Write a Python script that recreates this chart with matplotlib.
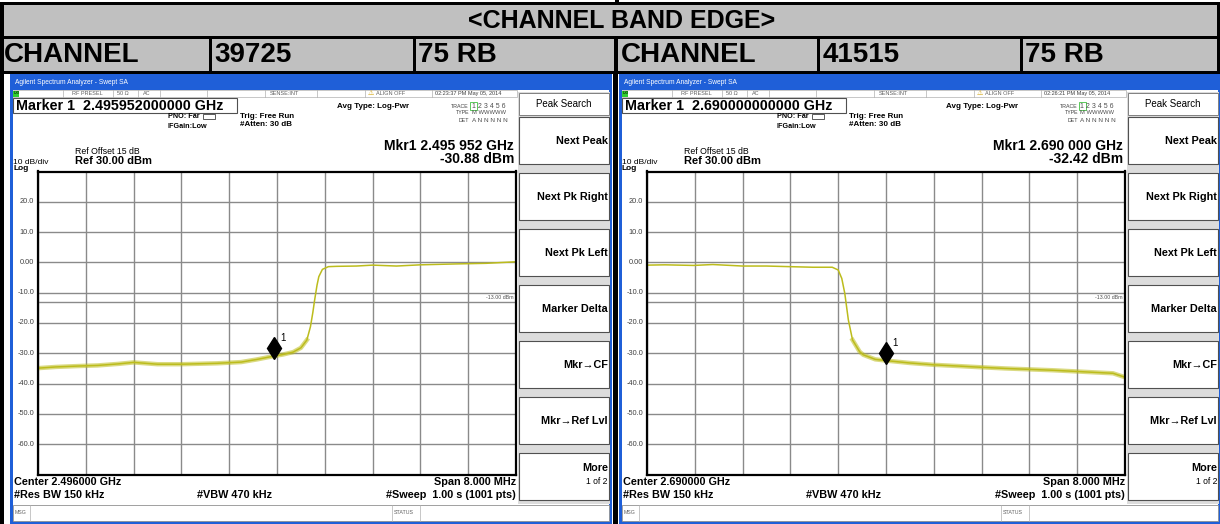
import numpy as np
import matplotlib.pyplot as plt
from matplotlib.patches import Rectangle
from matplotlib.transforms import ScaledTranslation

plt.rcParams['font.family'] = ['Liberation Sans', 'DejaVu Sans']

W, H = 1220, 524

# header table
title = "<CHANNEL BAND EDGE>"
channels = ["39725", "41515"]
rbs = ["75 RB", "75 RB"]

# analyzer settings
centers = [2.496, 2.690]            # GHz
span = 8.0                          # MHz
marker_freq = ["2.495952000000", "2.690000000000"]
mkr_freq_txt = ["2.495 952 GHz", "2.690 000 GHz"]
mkr_level = [-30.88, -32.42]
mkr_offset = [3.952, 4.0]           # MHz from left edge
stamps = ["02:23:37 PM May 05, 2014", "02:26:21 PM May 05, 2014"]
softkeys = ["Next Peak", "Next Pk Right", "Next Pk Left", "Marker Delta",
            "Mkr\u2192CF", "Mkr\u2192Ref Lvl"]
ytick_vals = [20, 10, 0, -10, -20, -30, -40, -50, -60]
ytick_lbls = ["20.0", "10.0", "0.00", "-10.0", "-20.0", "-30.0", "-40.0", "-50.0", "-60.0"]
limit_line = -13.0

# traces: MHz from left edge of span, level in dBm
f1 = [0.0, 0.3, 0.68, 1.0, 1.34, 1.6, 2.0, 2.4, 3.0, 3.4, 3.67, 3.952, 4.1, 4.27,
      4.4, 4.5, 4.56, 4.6, 4.63, 4.67, 4.70, 4.76, 4.86, 5.0, 5.33, 5.6, 6.0, 6.4,
      7.0, 7.5, 8.0]
p1 = [-34.9, -34.5, -34.2, -34.0, -33.5, -33.0, -33.6, -33.6, -33.3, -32.9, -32.0,
      -30.9, -30.4, -29.6, -28.2, -25.6, -21.2, -16.5, -12.4, -7.5, -4.7, -2.3, -1.4,
      -1.3, -1.2, -0.9, -1.2, -0.8, -0.5, -0.3, 0.2]

f2 = [0.0, 0.3, 0.78, 1.1, 1.6, 2.0, 2.38, 2.78, 3.10, 3.2, 3.26, 3.31, 3.37, 3.44,
      3.56, 3.62, 3.82, 4.0, 4.4, 4.8, 5.2, 5.58, 6.0, 6.4, 6.8, 7.2, 7.5, 7.8, 8.0]
p2 = [-0.9, -0.8, -1.0, -0.7, -1.2, -1.2, -1.4, -1.6, -1.6, -2.5, -5.3, -10.2, -19.0,
      -25.6, -29.5, -30.5, -32.0, -32.4, -33.2, -33.8, -34.2, -34.6, -35.0, -35.3,
      -35.6, -36.0, -36.3, -36.6, -37.9]

traces = [(f1, p1), (f2, p2)]

BLUE = '#1f5fd8'
GRAY = '#c0c0c0'
TRACE = '#bcbc1c'

fig = plt.figure(figsize=(W / 100, H / 100), dpi=100)
bg = fig.add_axes([0, 0, 1, 1])
bg.set_xlim(0, W)
bg.set_ylim(H, 0)
bg.axis('off')


def box(x, y, w, h, fc, ec='none', lw=0, z=1):
    bg.add_patch(Rectangle((x, y), w, h, fc=fc, ec=ec, lw=lw, zorder=z))


def txt(x, y, s, size, bold=False, ha='left', color='black', z=5):
    bg.text(x, y, s, fontsize=size, fontweight='bold' if bold else 'normal',
            ha=ha, va='center', color=color, zorder=z)


# ---- header table ----
box(0, 0, W, 74, 'white')
box(0, 5, W, 66, GRAY)
box(0, 2, W, 3, 'black')
box(0, 36, W, 3, 'black')
box(0, 71, W, 3, 'black')
box(0, 2, 4, 72, 'black')
box(W - 3, 2, 3, 72, 'black')
box(615, 0, 4, 5, 'black')
for xs in [209, 413, 614, 817, 1020]:
    box(xs, 36, 4 if xs == 614 else 3, 38, 'black')
txt(622, 21, title, 18, bold=True, ha='center')
for i, cols in enumerate([(4, 214, 418), (621, 823, 1025)]):
    txt(cols[0], 55, "CHANNEL", 20, bold=True)
    txt(cols[1], 55, channels[i], 20, bold=True)
    txt(cols[2], 55, rbs[i], 20, bold=True)

# black gap between the two screens
box(612, 74, 8, 450, 'white')
box(613, 74, 5, 450, 'black')
box(0, 74, 4, 450, 'black')
box(4, 74, 6, 450, 'white')

for k, dx in enumerate([0, 609]):
    # window frame
    box(dx + 10, 74, 602, 450, 'white')
    box(dx + 10, 74, 602, 16, BLUE, z=2)
    box(dx + 10, 74, 3, 450, BLUE, z=2)
    box(dx + 609, 74, 3, 450, BLUE, z=2)
    box(dx + 10, 521, 602, 3, BLUE, z=2)
    txt(dx + 15, 82, "Agilent Spectrum Analyzer - Swept SA", 4.8, color='white')

    # status row
    box(dx + 13, 90, 504, 7, 'white', ec='#b0b0b0', lw=0.5)
    box(dx + 13, 90.5, 6, 6, '#30d030', z=3)
    txt(dx + 13.5, 93.5, "LXI", 3, color='black', z=6)
    for xs in [63, 113, 138, 160, 207, 265, 317, 365, 432]:
        bg.plot([dx + xs, dx + xs], [90, 97], color='#b0b0b0', lw=0.5, zorder=3)
    for xs, s in [(72, "RF PRESEL"), (117, "50 \u03a9"), (143, "AC"), (270, "SENSE:INT")]:
        txt(dx + xs, 93.5, s, 4, color='#606060')
    txt(dx + 368, 93.5, "\u26a0", 5, color='#d0a000')
    txt(dx + 376, 93.5, "ALIGN OFF", 4, color='#606060')
    txt(dx + 435, 93.5, stamps[k], 4, color='#404040')

    # marker readout
    box(dx + 13, 98, 224, 15, 'white', ec='#505050', lw=0.8, z=2)
    txt(dx + 16, 106, "Marker 1  " + marker_freq[k] + " GHz", 10.3, bold=True)
    txt(dx + 200, 117, "PNO: Far", 5.2, bold=True, ha='right')
    box(dx + 203, 114, 12, 5, 'white', ec='#404040', lw=0.6, z=2)
    txt(dx + 207, 126, "IFGain:Low", 5.2, bold=True, ha='right')
    txt(dx + 240, 116, "Trig: Free Run", 5.8, bold=True)
    txt(dx + 240, 125, "#Atten: 30 dB", 5.8, bold=True)
    txt(dx + 337, 106, "Avg Type: Log-Pwr", 5.8, bold=True)
    txt(dx + 469, 106, "TRACE", 3.8, ha='right', color='#404040')
    txt(dx + 469, 113, "TYPE", 3.8, ha='right', color='#404040')
    txt(dx + 469, 120, "DET", 3.8, ha='right', color='#404040')
    box(dx + 470, 102, 7, 8, 'white', ec='#40c040', lw=0.6, z=2)
    txt(dx + 471.5, 106, "1 2 3 4 5 6", 5, color='#505050')
    txt(dx + 471.5, 113, "M WWWWW", 4.2, color='#505050')
    txt(dx + 471.5, 120, "A N N N N N", 4.6, color='#505050')
    txt(dx + 514, 146, "Mkr1 " + mkr_freq_txt[k], 10, bold=True, ha='right')
    txt(dx + 514, 159, f"{mkr_level[k]:.2f} dBm", 10, bold=True, ha='right')
    txt(dx + 75, 151, "Ref Offset 15 dB", 6.3)
    txt(dx + 75, 161, "Ref 30.00 dBm", 8, bold=True)
    txt(dx + 13, 162, "10 dB/div", 6)
    txt(dx + 13, 169, "Log", 6, bold=True)

    # bottom annotation
    cf = centers[k]
    txt(dx + 14, 482, f"Center {cf:.6f} GHz", 7.8, bold=True)
    txt(dx + 516, 482, f"Span {span:.3f} MHz", 7.8, bold=True, ha='right')
    txt(dx + 14, 495, "#Res BW 150 kHz", 7.8, bold=True)
    txt(dx + 197, 495, "#VBW 470 kHz", 7.8, bold=True)
    txt(dx + 516, 495, "#Sweep  1.00 s (1001 pts)", 7.8, bold=True, ha='right')

    # message bar
    box(dx + 13, 505, 596, 16, 'white', ec='#909090', lw=0.6, z=2)
    bg.plot([dx + 30, dx + 30], [505, 521], color='#b0b0b0', lw=0.5, zorder=3)
    bg.plot([dx + 392, dx + 392], [505, 521], color='#b0b0b0', lw=0.5, zorder=3)
    bg.plot([dx + 420, dx + 420], [505, 521], color='#b0b0b0', lw=0.5, zorder=3)
    txt(dx + 15, 513, "MSG", 3.8, color='#606060')
    txt(dx + 394, 513, "STATUS", 3.8, color='#606060')

    # softkeys
    box(dx + 518, 92, 92, 412, '#dcdcdc', z=2)
    box(dx + 519, 93, 90, 22, 'white', ec='#808080', lw=0.7, z=3)
    txt(dx + 564, 104, "Peak Search", 7, ha='center')
    tops = [117 + 56 * i for i in range(7)]
    for i, top in enumerate(tops):
        box(dx + 519, top, 90, 47, 'white', ec='#505050', lw=0.8, z=3)
        if i < len(softkeys):
            txt(dx + 608, top + 23.5, softkeys[i], 7.8, bold=True, ha='right')
    txt(dx + 608, tops[-1] + 15, "More", 7.8, bold=True, ha='right')
    txt(dx + 608, tops[-1] + 29, "1 of 2", 6.2, ha='right')

    # ---- spectrum plot ----
    px0, px1, py0, py1 = dx + 38, dx + 516, 171.5, 474.5
    ax = fig.add_axes([px0 / W, 1 - py1 / H, (px1 - px0) / W, (py1 - py0) / H])
    lo = cf - span / 2000
    ax.set_xlim(lo, cf + span / 2000)
    ax.set_ylim(-70, 30)
    ax.set_xticks(np.linspace(lo, cf + span / 2000, 11))
    ax.set_yticks(np.arange(-70, 31, 10))
    ax.grid(True, color='#8a8a8a', lw=1.0)
    ax.tick_params(length=0, labelbottom=False, labelleft=False)
    for s in ax.spines.values():
        s.set_color('black')
        s.set_linewidth(1.6)
    ax.axhline(limit_line, color='#8a8a8a', lw=1.0)
    ax.text(0.995, limit_line + 1.3, "-13.00 dBm", transform=ax.get_yaxis_transform(),
            fontsize=3.8, ha='right', va='center', color='#505050')

    fr, pw = traces[k]
    x = lo + np.array(fr) / 1000
    y = np.array(pw)
    ax.plot(x, np.where(y < -24, y, np.nan), color=TRACE, lw=3.2, alpha=0.55)
    ax.plot(x, y, color=TRACE, lw=1.1)

    mx = lo + mkr_offset[k] / 1000
    shift = ScaledTranslation(0, 8 / 100, fig.dpi_scale_trans)
    ax.plot([mx], [mkr_level[k]], marker='d', color='black', ms=11.5,
            transform=ax.transData + shift, clip_on=False)
    ax.text(mx, mkr_level[k], "1", fontsize=7,
            transform=ax.transData + ScaledTranslation(6 / 100, 15 / 100, fig.dpi_scale_trans))

    for v, lbl in zip(ytick_vals, ytick_lbls):
        ax.text(-0.008, v, lbl, transform=ax.get_yaxis_transform(), fontsize=5.3,
                ha='right', va='center', color='#404040')

fig.savefig('out.png', dpi=100)
